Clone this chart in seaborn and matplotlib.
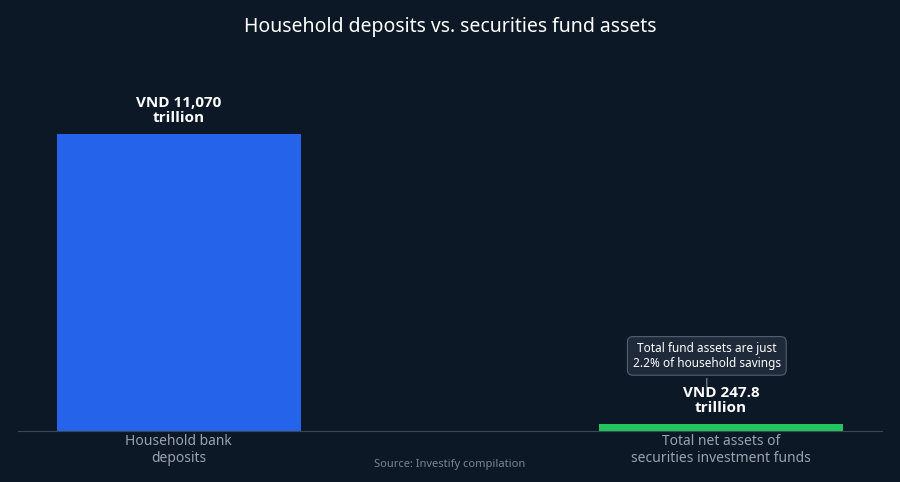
import matplotlib
matplotlib.use("Agg")
import matplotlib.pyplot as plt
import seaborn as sns
import pandas as pd

categories = ["Household bank\ndeposits", "Total net assets of\nsecurities investment funds"]
values = [11070, 247.8]
value_labels = ["VND 11,070\ntrillion", "VND 247.8\ntrillion"]
colors = ["#2563eb", "#22c55e"]

sns.set_style("dark")
plt.rcParams['font.family'] = ['Noto Sans', 'DejaVu Sans']
bg = "#0c1826"
fig = plt.figure(figsize=(9, 4.82), dpi=100, facecolor=bg)
ax = fig.add_axes([0.02, 0.1058, 0.96, 0.779])
ax.set_facecolor(bg)
df = pd.DataFrame({"cat": categories, "val": values})
sns.barplot(data=df, x="cat", y="val", hue="cat", palette=colors, width=0.45,
            saturation=1, legend=False, ax=ax, linewidth=0, edgecolor="none")
ax.set_ylim(0, 14000)
ax.set_xlim(-0.296, 1.297)
ax.set_yticks([])
ax.set_xlabel(""); ax.set_ylabel("")
for s in ["top", "right", "left"]:
    ax.spines[s].set_visible(False)
ax.spines["bottom"].set_color("#3a4656")
ax.tick_params(axis="x", length=0, colors="#9aa3ad", labelsize=10, pad=2)
ax.grid(False)
for i, (v, lab) in enumerate(zip(values, value_labels)):
    ax.text(i, v + 350, lab, ha="center", va="bottom", color="white",
            fontsize=11, fontweight="bold", linespacing=1.05,
            family=["Open Sans", "DejaVu Sans"])
ax.annotate("Total fund assets are just\n2.2% of household savings",
            xy=(0.974, 1500), xytext=(0.974, 2800), ha="center", va="center",
            color="white", fontsize=8.5, linespacing=1.2,
            bbox=dict(boxstyle="round,pad=0.45", fc="#1e2a3a", ec="#55606e", lw=0.8),
            arrowprops=dict(arrowstyle="-", color="#8a93a0", lw=0.8))
fig.text(0.5, 0.945, "Household deposits vs. securities fund assets", ha="center",
         va="center", color="white", fontsize=14)
fig.text(0.5, 0.037, "Source: Investify compilation", ha="center", va="center",
         color="#7c8591", fontsize=8)
fig.savefig("out.png", dpi=100, facecolor=bg)
